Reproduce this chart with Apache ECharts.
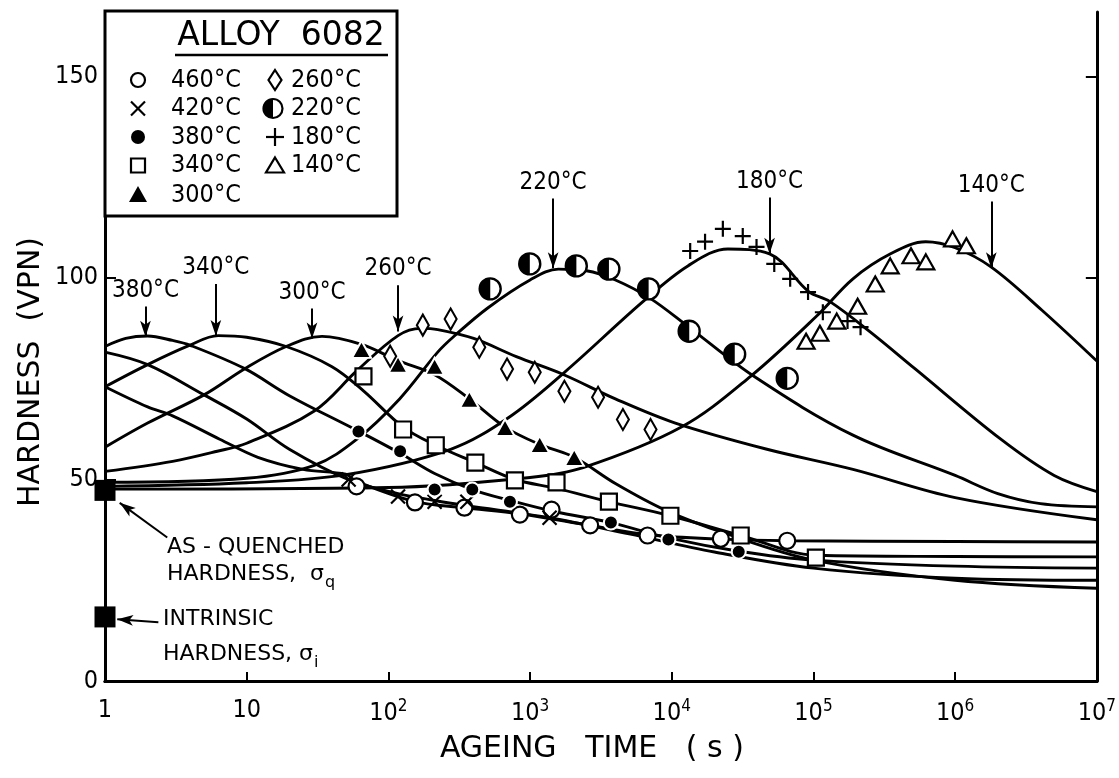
<!DOCTYPE html>
<html>
<head>
<meta charset="utf-8">
<script src="https://cdn.jsdelivr.net/npm/echarts@6/dist/echarts.min.js"></script>
<style>
html,body{margin:0;padding:0;background:#fff}
#chart{width:1119px;height:778px}
</style>
</head>
<body>
<div id="chart"></div>
<script>
// Age-hardening curves of alloy 6082: model lines and measured points.
const FONT = "'DejaVu Sans Condensed','DejaVu Sans',sans-serif";
const WIDE = "'DejaVu Sans',sans-serif";

// Model curves: [ageing time (s), hardness (VPN)]
const curve460 = [[1,73],[2,68],[3,65.8],[6.45,60],[12,55.5],[25,52.5],[50,51.3],[59.6,49.5],[154,44.5],[344,43],[847,41.5],[2655,38.6],[6750,36.3],[22200,35.2],[65300,34.8],[1e6,34.6],[1e7,34.5]];
const curve420 = [[1,81.6],[2,78.5],[5,71],[10,65],[20,57.5],[52,50],[117,46.5],[212,44.8],[361,43.5],[1373,40.5],[5000,36.5],[2e4,32],[1e5,28],[1e6,25.5],[1e7,25]];
const curve380 = [[1,83],[1.4,85],[2,85.6],[3,84.5],[4,83.3],[9.7,77.5],[20,70.8],[61.5,62],[121,56.5],[212,51.5],[391,47.5],[721,44.8],[1500,42],[3720,39.3],[9470,35.5],[29700,32.2],[1e5,30],[1e6,28.5],[1e7,28]];
const curve340 = [[1,73],[2,78.5],[3.9,83.2],[6.3,85.7],[10,85.3],[19,83],[40,78],[66.7,72],[127,63],[216,58.5],[411,54.2],[782,50],[1537,47.8],[3600,44.5],[9780,41],[30650,36.1],[1.04e5,31.2],[1e6,30.9],[1e7,30.8]];
const curve300 = [[1,58],[2,64],[5,71],[9.7,77.5],[19,83],[34,85.5],[64.6,83.5],[117,79.5],[212,76],[373,70],[666,63],[1170,58.7],[2050,55.5],[4000,49],[9000,42.4],[2.4e4,36.6],[1e5,30],[1e6,25],[1e7,23]];
const curve260 = [[1,52],[3,54.5],[6.2,57],[10,59],[30,67],[60,77],[117,85.7],[170,87.5],[223,87.2],[400,85],[800,80.5],[1730,76],[4000,70],[10600,64],[47000,57.5],[1.9e5,52.5],[1e6,45.5],[1e7,40]];
const curve220 = [[1,49.3],[10,50.3],[30,53.5],[60,60],[120,70],[223,81.6],[292,85.6],[500,92.5],[1000,99.5],[1585,102.2],[2500,101.8],[4000,99.5],[7000,95],[13000,88],[38000,75.6],[1.9e5,61],[1e6,51],[2e6,46.5],[4e6,44],[1e7,43.2]];
const curve180 = [[1,48.3],[10,49.2],[50,51.2],[275,57.5],[707,65.4],[1750,76.6],[6200,94],[13000,103],[24900,107.2],[49000,106],[92000,96.7],[1.3e5,94.2],[2.5e5,86.7],[5.2e5,77.5],[2.1e6,60],[5e6,51],[1e7,47]];
const curve140 = [[1,47.6],[100,48],[1000,50.5],[2400,53],[11700,63],[36000,75.6],[105000,90.5],[190000,99.8],[350000,106],[620000,109],[1e6,107.5],[1.8e6,102.7],[4.1e6,92],[1e7,79.4]];

// Measured points: [ageing time (s), hardness (VPN)]
const pts460 = [[59.6,48.3],[154,44.3],[344,43],[847,41.3],[1418,42.5],[2655,38.6],[6750,36.1],[22200,35.3],[65300,34.8]];
const pts420 = [[52.4,50],[117,45.8],[212,44.5],[361,44.5],[1373,40.5]];
const pts380 = [[61.5,61.9],[121,57],[212,47.5],[391,47.5],[721,44.5],[3720,39.3],[9470,35.1],[29700,32.1]];
const pts340 = [[66.7,75.6],[127,62.4],[216,58.5],[411,54.2],[782,49.8],[1537,49.3],[3600,44.5],[9780,41],[30650,36.1],[104000,30.6]];
const pts300 = [[64.6,82.3],[117,78.6],[212,78.1],[373,69.9],[666,62.9],[1170,58.7],[2050,55.5]];
const pts260 = [[103,80.6],[175,88.3],[275,89.8],[438,82.8],[688,77.4],[1079,76.6],[1747,71.9],[3020,70.4],[4520,64.9],[7080,62.4]];
const pts220 = [[523,97.3],[995,103.5],[2120,103],[3600,102.2],[6860,97.3],[13270,86.8],[27800,81.1],[65300,75.1]];
const pts180 = [[13490,106.7],[17180,109],[22940,112.2],[31700,110.4],[39650,107.7],[52900,103.5],[68500,99.8],[91600,96.5],[116500,91.5],[174000,89.3],[215000,87.8]];
const pts140 = [[88700,84.3],[111000,86.3],[146000,89.3],[205000,93],[273000,98.5],[348000,103],[488000,105.5],[621000,104],[959000,109.7],[1200000,108]];

// Reference hardness levels at t = 1 s
const asQuenched = 47.3;
const intrinsic = 15.9;

// Peak arrows: label, time, arrow top, arrow tip
const arrowLabels = ['380°C','340°C','300°C','260°C','220°C','180°C','140°C'];
const arrowTimes  = [1.93, 6.06, 28.9, 117, 1455, 49000, 1800000];
const arrowTops   = [92.9, 98.5, 92.4, 98.2, 119.7, 120, 119];
const arrowTips   = [85.4, 85.6, 85.0, 86.7, 102.4, 106, 102.4];

// Axis ticks
const timeTicks = [1, 10, 100, 1e3, 1e4, 1e5, 1e6, 1e7];
const hardnessTicks = [0, 50, 100, 150];
const rightTicks = [100, 150];

const chart = echarts.init(document.getElementById('chart'), null, {renderer: 'canvas'});

const LW = 2.9;
function curve(name, data) {
  return {
    name, type: 'line', data, smooth: 0.35, symbol: 'none', z: 2,
    lineStyle: {color: '#000', width: LW}, silent: true, animation: false, clip: true
  };
}
function points(name, data, symbol, size, style, extra) {
  return Object.assign({
    name, type: 'scatter', data, symbol, symbolSize: size, z: 5, silent: true, animation: false,
    itemStyle: Object.assign({color: '#fff', borderColor: '#000', borderWidth: 2.2, opacity: 1}, style)
  }, extra || {});
}

const arrowSeries = {
  type: 'line', data: [], silent: true, animation: false,
  markLine: {
    silent: true, animation: false, symbol: ['none', 'arrow'], symbolSize: [8, 16],
    lineStyle: {color: '#000', width: 2, type: 'solid'},
    label: {show: true, position: 'start', distance: 4, color: '#000', fontFamily: FONT, fontSize: 24},
    data: arrowLabels.map((lab, i) => [
      {coord: [arrowTimes[i], arrowTops[i]], label: {formatter: lab}},
      {coord: [arrowTimes[i], arrowTips[i]]}
    ])
  }
};

const refSeries = {
  type: 'scatter', data: [[1, asQuenched], [1, intrinsic]], symbol: 'rect', symbolSize: 21,
  itemStyle: {color: '#000', opacity: 1}, z: 6, silent: true, animation: false, clip: false,
  markLine: {
    silent: true, animation: false, symbol: ['none', 'arrow'], symbolSize: [8, 16],
    lineStyle: {color: '#000', width: 2, type: 'solid'}, label: {show: false},
    data: [
      [{coord: [2.75, 35.6]}, {coord: [1.27, 44.2]}],
      [{coord: [2.38, 14.6]}, {coord: [1.22, 15.3]}]
    ]
  }
};

const supRich = {
  b: {fontSize: 25, fontFamily: FONT, color: '#000'},
  s: {fontSize: 17, fontFamily: FONT, color: '#000', verticalAlign: 'top', padding: [0, 0, 13, 0]}
};

const option = {
  backgroundColor: '#fff',
  animation: false,
  grid: {left: 105, right: 12, top: 12, bottom: 97},
  xAxis: [{
    type: 'log', logBase: 10, min: 1, max: 1e7, splitNumber: 7,
    axisLine: {lineStyle: {color: '#000', width: 3}},
    axisTick: {inside: true, length: 9, lineStyle: {color: '#000', width: 2}},
    minorTick: {show: false}, splitLine: {show: false},
    axisLabel: {
      margin: 17, color: '#000', fontFamily: FONT, fontSize: 25, rich: supRich,
      formatter: v => {
        const e = Math.round(Math.log10(v));
        if (timeTicks.indexOf(Math.pow(10, e)) < 0) return '';
        if (e === 0) return '{b|1}';
        if (e === 1) return '{b|10}';
        return '{b|10}{s|' + e + '}';
      }
    },
    name: 'AGEING   TIME   ( s )', nameLocation: 'middle', nameGap: 53,
    nameTextStyle: {color: '#000', fontFamily: WIDE, fontSize: 30, padding: [0, 18, 0, 0]}
  }, {
    type: 'log', logBase: 10, min: 1, max: 1e7, position: 'top',
    axisLine: {show: true, lineStyle: {color: '#000', width: 3}},
    axisTick: {show: false}, axisLabel: {show: false}, splitLine: {show: false}
  }],
  yAxis: [{
    type: 'value', min: 0, max: 166, interval: 50,
    axisLine: {show: true, lineStyle: {color: '#000', width: 3}},
    axisTick: {show: true, inside: true, length: 11, lineStyle: {color: '#000', width: 2}},
    splitLine: {show: false},
    axisLabel: {
      margin: 7, color: '#000', fontFamily: FONT, fontSize: 25, showMaxLabel: false,
      formatter: v => hardnessTicks.indexOf(v) >= 0 ? String(v) : ''
    }
  }, {
    type: 'value', min: 0, max: 166, interval: 50, position: 'right',
    axisLine: {show: true, lineStyle: {color: '#000', width: 3}},
    axisTick: {show: true, inside: true, length: 11, customValues: rightTicks, lineStyle: {color: '#000', width: 2}},
    axisLabel: {show: false}, splitLine: {show: false}
  }],
  series: [
    curve('460 model', curve460),
    curve('420 model', curve420),
    curve('380 model', curve380),
    curve('340 model', curve340),
    curve('300 model', curve300),
    curve('260 model', curve260),
    curve('220 model', curve220),
    curve('180 model', curve180),
    curve('140 model', curve140),
    arrowSeries,
    refSeries,
    points('460°C', pts460, 'circle', 16, {}),
    points('420°C', pts420, 'path://M0,0L12,12M12,0L0,12', 14, {color: 'none', borderWidth: 2.2}),
    points('380°C', pts380, 'circle', 14, {color: '#000', borderColor: '#fff', borderWidth: 2}),
    points('340°C', pts340, 'rect', 16, {}),
    points('300°C', pts300, 'triangle', [19, 17], {color: '#000', borderColor: '#fff', borderWidth: 2}),
    points('260°C', pts260, 'diamond', [12, 21], {}),
    points('220°C', pts220, 'circle', 21, {borderWidth: 2.4}),
    points('220°C half', pts220, 'path://M10,0A10,10 0 0 0 10,20Z', [10.5, 21], {color: '#000', borderWidth: 0}, {symbolOffset: [-5.2, 0], z: 6}),
    points('180°C', pts180, 'path://M6,0L6,12M0,6L12,6', 16, {color: 'none', borderWidth: 2.2}),
    points('140°C', pts140, 'triangle', [17, 15], {})
  ],
  graphic: []
};

chart.setOption(option);

// Legend box, axis title and annotation text, placed in pixel space
const measure = document.createElement('canvas').getContext('2d');
function textWidth(text, size, family) {
  measure.font = size + 'px ' + family;
  return measure.measureText(text).width;
}
const g = [];
const txt = (text, x, y, size, align, family) => ({
  type: 'text', x, y, silent: true, z: 20,
  style: {text, font: size + 'px ' + (family || FONT), fill: '#000', textAlign: align || 'left', textVerticalAlign: 'middle'}
});
g.push({type: 'text', x: 31, y: 372, rotation: Math.PI / 2, silent: true, z: 20,
  style: {text: 'HARDNESS  (VPN)', font: '30px ' + WIDE, fill: '#000', textAlign: 'center', textVerticalAlign: 'middle'}});

g.push({type: 'rect', shape: {x: 105, y: 11, width: 292, height: 205}, silent: true, z: 19,
  style: {fill: '#fff', stroke: '#000', lineWidth: 3}});
g.push(txt('ALLOY  6082', 281, 36, 33, 'center', WIDE));
g.push({type: 'line', shape: {x1: 175, y1: 55, x2: 388, y2: 55}, silent: true, z: 20, style: {stroke: '#000', lineWidth: 2.5}});

const rowY = [80, 108.5, 137, 165.5, 195];
const leftLabels = ['460°C', '420°C', '380°C', '340°C', '300°C'];
const rightLabels = ['260°C', '220°C', '180°C', '140°C'];
leftLabels.forEach((l, i) => g.push(txt(l, 171, rowY[i], 25)));
rightLabels.forEach((l, i) => g.push(txt(l, 291, rowY[i], 25)));
const sx = 138, sx2 = 275;
const S = {stroke: '#000', lineWidth: 2.2, fill: '#fff'};
g.push({type: 'circle', shape: {cx: sx, cy: rowY[0], r: 7}, style: S, z: 20, silent: true});
g.push({type: 'polyline', shape: {points: [[sx - 7, rowY[1] - 7], [sx + 7, rowY[1] + 7]]}, style: {stroke: '#000', lineWidth: 2.2}, z: 20, silent: true});
g.push({type: 'polyline', shape: {points: [[sx + 7, rowY[1] - 7], [sx - 7, rowY[1] + 7]]}, style: {stroke: '#000', lineWidth: 2.2}, z: 20, silent: true});
g.push({type: 'circle', shape: {cx: sx, cy: rowY[2], r: 7}, style: {fill: '#000'}, z: 20, silent: true});
g.push({type: 'rect', shape: {x: sx - 7, y: rowY[3] - 7, width: 14, height: 14}, style: S, z: 20, silent: true});
g.push({type: 'polygon', shape: {points: [[sx, rowY[4] - 9], [sx + 9, rowY[4] + 7], [sx - 9, rowY[4] + 7]]}, style: {fill: '#000'}, z: 20, silent: true});
g.push({type: 'polygon', shape: {points: [[sx2, rowY[0] - 10], [sx2 + 6.5, rowY[0]], [sx2, rowY[0] + 10], [sx2 - 6.5, rowY[0]]]}, style: S, z: 20, silent: true});
g.push({type: 'circle', shape: {cx: sx2 - 2, cy: rowY[1], r: 9.5}, style: S, z: 20, silent: true});
g.push({type: 'sector', shape: {cx: sx2 - 2, cy: rowY[1], r: 9.5, r0: 0, startAngle: Math.PI / 2, endAngle: Math.PI * 1.5}, style: {fill: '#000'}, z: 21, silent: true});
g.push({type: 'polyline', shape: {points: [[sx2 - 9, rowY[2]], [sx2 + 9, rowY[2]]]}, style: {stroke: '#000', lineWidth: 2.2}, z: 20, silent: true});
g.push({type: 'polyline', shape: {points: [[sx2, rowY[2] - 9], [sx2, rowY[2] + 9]]}, style: {stroke: '#000', lineWidth: 2.2}, z: 20, silent: true});
g.push({type: 'polygon', shape: {points: [[sx2, rowY[3] - 8], [sx2 + 9, rowY[3] + 7], [sx2 - 9, rowY[3] + 7]]}, style: S, z: 20, silent: true});

// Annotations for the two reference hardness levels, with subscripts
function labelWithSub(main, sub, x, y) {
  g.push(txt(main, x, y, 22, 'left', WIDE));
  const w = textWidth(main, 22, WIDE);
  g.push(txt(sub, x + w + 1, y + 9, 16, 'left', WIDE));
}
g.push(txt('AS - QUENCHED', 167, 547, 22, 'left', WIDE));
labelWithSub('HARDNESS,  σ', 'q', 167, 574);
g.push(txt('INTRINSIC', 163, 619, 22, 'left', WIDE));
labelWithSub('HARDNESS, σ', 'i', 163, 654);

chart.setOption({graphic: g});
</script>
</body>
</html>
